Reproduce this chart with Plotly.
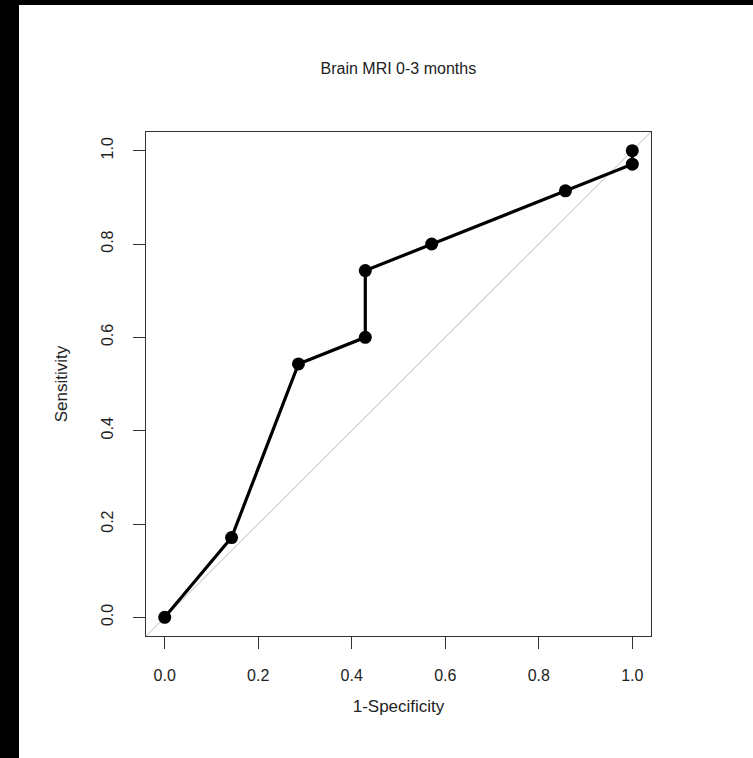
import plotly.graph_objects as go

# Data (1-Specificity, Sensitivity)
fpr = [0.0, 0.143, 0.286, 0.429, 0.429, 0.571, 0.857, 1.0, 1.0]
tpr = [0.0, 0.171, 0.543, 0.600, 0.743, 0.800, 0.914, 0.971, 1.0]
diag = [-0.04, 1.04]
tick_vals = [0.0, 0.2, 0.4, 0.6, 0.8, 1.0]
tick_text = ["0.0", "0.2", "0.4", "0.6", "0.8", "1.0"]

FONT = "Liberation Sans, Arial, sans-serif"

fig = go.Figure()
fig.add_trace(go.Scatter(x=diag, y=diag, mode="lines",
                         line=dict(color="#d3d3d3", width=1.2),
                         hoverinfo="skip", showlegend=False))
fig.add_trace(go.Scatter(x=fpr, y=tpr, mode="lines+markers",
                         line=dict(color="black", width=3.2),
                         marker=dict(color="black", size=13),
                         showlegend=False))

axis_common = dict(range=[-0.04, 1.04], tickvals=tick_vals, ticktext=tick_text,
                   ticks="outside", ticklen=12, tickwidth=1, tickcolor="#333",
                   showline=True, linecolor="#333", linewidth=1, mirror=True,
                   showgrid=False, zeroline=False,
                   tickfont=dict(family=FONT, size=16, color="#222"))

fig.update_xaxes(**axis_common, ticklabelstandoff=13,
                 title=dict(text="1-Specificity", font=dict(family=FONT, size=17, color="#222"), standoff=16))
fig.update_yaxes(**axis_common, tickangle=-90, ticklabelstandoff=14,
                 title=dict(text="Sensitivity", font=dict(family=FONT, size=17, color="#222"), standoff=26))

fig.update_layout(
    width=753, height=758,
    margin=dict(l=146, r=102, t=132, b=122, autoexpand=False),
    paper_bgcolor="white", plot_bgcolor="white",
    title=dict(text="Brain MRI 0-3 months", x=0.529, xanchor="center",
               y=1 - 68 / 758, yanchor="middle",
               font=dict(family=FONT, size=16, color="#222")),
    shapes=[
        dict(type="rect", xref="paper", yref="paper",
             x0=-146 / 505, x1=(19 - 146) / 505, y0=-1, y1=2,
             fillcolor="black", line=dict(width=0)),
        dict(type="rect", xref="paper", yref="paper",
             x0=-1, x1=2, y0=(636 - 5) / 504, y1=2,
             fillcolor="black", line=dict(width=0)),
    ],
)

fig.write_html("out.html")
